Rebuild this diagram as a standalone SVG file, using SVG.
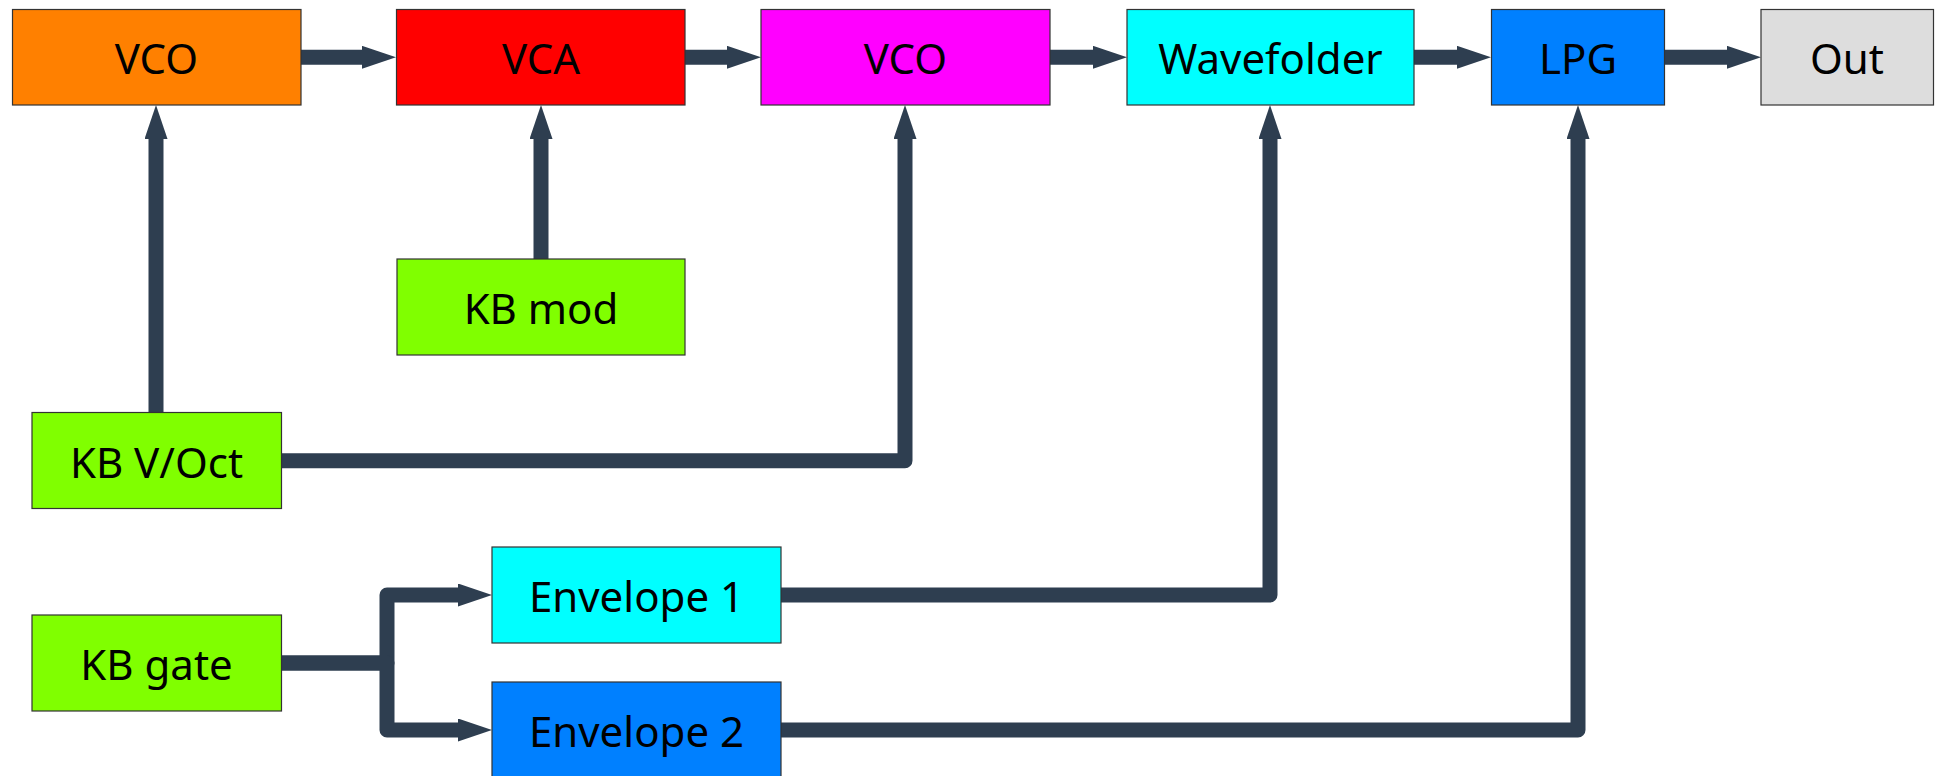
<svg xmlns="http://www.w3.org/2000/svg" width="1935" height="776" viewBox="0 0 1935 776">
<style>
.box{stroke:#333;stroke-width:1.2}
.lbl{font-family:"Noto Sans","Liberation Sans",sans-serif;font-size:42px;fill:#000;text-anchor:middle}
.wire{fill:none;stroke:#2e3e50;stroke-width:15;stroke-linejoin:round;marker-end:url(#ah)}
.plain{fill:none;stroke:#2e3e50;stroke-width:15;stroke-linejoin:round}
</style>
<defs>
<marker id="ah" markerUnits="userSpaceOnUse" markerWidth="35" markerHeight="24" refX="0" refY="11.5" orient="auto" viewBox="0 0 35 24">
<path d="M0,0 L34,11.5 L0,23 z" fill="#2e3e50"/>
</marker>
</defs>
<rect width="1935" height="776" fill="#fff"/>
<g id="connectors">
<path class="wire" d="M301,57.3 H362"/>
<path class="wire" d="M685,57.3 H727"/>
<path class="wire" d="M1050,57.3 H1093"/>
<path class="wire" d="M1414,57.3 H1457"/>
<path class="wire" d="M1665,57.3 H1727"/>
<path class="wire" d="M156,412 V139"/>
<path class="wire" d="M541,259 V139"/>
<path class="wire" d="M281,460.8 H905 V139"/>
<path class="wire" d="M781,595 H1270 V139"/>
<path class="wire" d="M781,730 H1578 V139"/>
<path class="wire" d="M281,663 H387 V595 H458"/>
<path class="wire" d="M281,663 H387 V730 H458"/>
</g>
<g id="vco1"><rect class="box" x="12.5" y="9.5" width="288.5" height="95.5" fill="#ff8000"/><text class="lbl" x="156.5" y="74">VCO</text></g>
<g id="vca"><rect class="box" x="396.5" y="9.5" width="288.5" height="95.5" fill="#ff0000"/><text class="lbl" x="541" y="74">VCA</text></g>
<g id="vco2"><rect class="box" x="761" y="9.5" width="289" height="95.5" fill="#ff00ff"/><text class="lbl" x="905.5" y="74">VCO</text></g>
<g id="wavefolder"><rect class="box" x="1127" y="9.5" width="287" height="95.5" fill="#00ffff"/><text class="lbl" x="1270.5" y="74">Wavefolder</text></g>
<g id="lpg"><rect class="box" x="1491.5" y="9.5" width="173" height="95.5" fill="#0080ff"/><text class="lbl" x="1578" y="74">LPG</text></g>
<g id="out"><rect class="box" x="1761" y="9.5" width="172.5" height="95.5" fill="#dddddd"/><text class="lbl" x="1847" y="74">Out</text></g>
<g id="kbmod"><rect class="box" x="397" y="259" width="288" height="96" fill="#80ff00"/><text class="lbl" x="541" y="324">KB mod</text></g>
<g id="kbvoct"><rect class="box" x="32" y="412.5" width="249.5" height="96" fill="#80ff00"/><text class="lbl" x="156.5" y="477.5">KB V/Oct</text></g>
<g id="kbgate"><rect class="box" x="32" y="615" width="249.5" height="96" fill="#80ff00"/><text class="lbl" x="156.5" y="680">KB gate</text></g>
<g id="env1"><rect class="box" x="492" y="547" width="289" height="96" fill="#00ffff"/><text class="lbl" x="636.5" y="612">Envelope 1</text></g>
<g id="env2"><rect class="box" x="492" y="682" width="289" height="96" fill="#0080ff"/><text class="lbl" x="636.5" y="747">Envelope 2</text></g>
</svg>
